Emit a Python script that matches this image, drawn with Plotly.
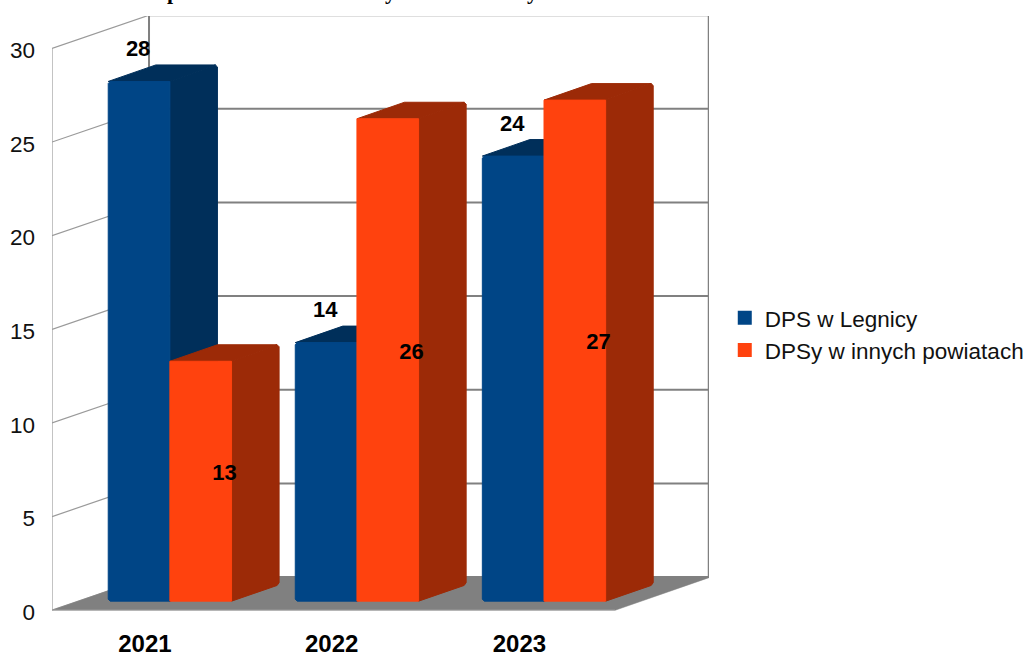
import plotly.graph_objects as go

# ---- data ----
years = ["2021", "2022", "2023"]
dps_legnica = [28, 14, 24]
dps_inne = [13, 26, 27]
name_legnica = "DPS w Legnicy"
name_inne = "DPSy w innych powiatach"
y_ticks = [0, 5, 10, 15, 20, 25, 30]

# ---- style / oblique projection constants ----
BLUE, BLUE_DARK = "#004586", "#002f5a"
ORANGE, ORANGE_DARK = "#ff420e", "#9c2a07"
GREY = "#808080"
SANS = "Liberation Sans"
DX, DY = 0.5168, 1.80      # depth vector of the chart box, in axis units
D0, D1 = 0.27, 0.76        # front / back depth of the bars
K = 0.996                  # bars sit slightly behind the front plane
BEVEL = 0.14               # rounded bar tops end a little below the value
CX, CY = 0.0107, 0.107     # size of the softened bar corners
BAR_W = 0.3285
BAR_START = 0.16
XMAX, YMIN, YMAX = 3.5, -0.2, 31.73


def proj(x, v, d):
    return x + d * DX, v * K + d * DY


def top(v):
    return v - BEVEL


def poly(points, color, width=1.0):
    xs = [p[0] for p in points] + [points[0][0]]
    ys = [p[1] for p in points] + [points[0][1]]
    return go.Scatter(x=xs, y=ys, mode="lines", fill="toself", fillcolor=color,
                      line=dict(color=color, width=width), hoverinfo="skip",
                      showlegend=False, cliponaxis=False)


def lines(xs, ys, color, width):
    return go.Scatter(x=xs, y=ys, mode="lines", line=dict(color=color, width=width),
                      hoverinfo="skip", showlegend=False, cliponaxis=False)


fig = go.Figure()

# walls: side wall lines, back wall lines
sx, sy, bx, by = [], [], [], []
for t in y_ticks:
    sx += [0, DX, None]
    sy += [t, t + DY * 0.985, None]
    bx += [DX, XMAX, None]
    by += [t + DY * 0.985, t + DY * 0.985, None]
fig.add_trace(lines(sx, sy, "#9a9a9a", 1.2))
fig.add_trace(lines(bx, by, GREY, 2))
fig.add_trace(lines([0, 0], [0, y_ticks[-1]], "#9a9a9a", 1.2))
fig.add_trace(lines([DX, DX], [DY * 0.985, y_ticks[-1] + DY * 0.985], GREY, 2))
fig.add_trace(lines([XMAX, XMAX], [DY * 0.985, y_ticks[-1] + DY * 0.985], GREY, 2.5))

# floor
fig.add_trace(poly([(0, 0), (3, 0), (3 + DX, DY), (DX, DY)], GREY, 0.5))
fig.add_trace(lines([0, 3], [0, 0], "#b4b4b4", 1))


def bar(x0, v, front, dark, round_left):
    x1 = x0 + BAR_W
    h = top(v)
    bx_, by_ = proj(x1, 0, D1)
    tx_, ty_ = proj(x1, h, D1)
    # right side, with softened outer corners
    fig.add_trace(poly([proj(x1, 0, D0), (bx_ - CX, by_ - CY * 0.4), (bx_, by_ + CY),
                        (tx_, ty_ - CY), (tx_ - CX, ty_), proj(x1, h, D0)], dark))
    # top
    fig.add_trace(poly([proj(x0, h, D0), proj(x0, h, D1), (tx_ - CX, ty_), proj(x1, h, D0)], dark))
    # front
    fx, fy = proj(x0, 0, D0)
    gx, gy = proj(x0, h, D0)
    c = 1 if round_left else 0
    fig.add_trace(poly([(fx + c * CX, fy), proj(x1, 0, D0), proj(x1, h, D0),
                        (gx + c * CX, gy), (gx, gy - c * CY), (fx, fy + c * CY)], front))


for i in range(len(years)):
    g = BAR_START + i * 0.9965
    bar(g, dps_legnica[i], BLUE, BLUE_DARK, True)
    bar(g + BAR_W, dps_inne[i], ORANGE, ORANGE_DARK, False)

# data labels
lx, ly, lt = [], [], []
for i in range(len(years)):
    g = BAR_START + i * 0.9965
    X, Y = proj(g + BAR_W / 2, dps_legnica[i], D0)
    lx.append(X - 0.005); ly.append(Y + 1.5); lt.append(str(dps_legnica[i]))
    X, Y = proj(g + BAR_W * 1.5, dps_inne[i] / 2, (D0 + D1) / 2)
    lx.append(X); ly.append(Y - 0.15); lt.append(str(dps_inne[i]))
fig.add_trace(go.Scatter(x=lx, y=ly, text=lt, mode="text", textposition="middle center",
                         textfont=dict(family=SANS, size=22, color="#000000"),
                         texttemplate="<b>%{text}</b>", hoverinfo="skip",
                         showlegend=False, cliponaxis=False))

# legend entries
for name, col in [(name_legnica, BLUE), (name_inne, ORANGE)]:
    fig.add_trace(go.Scatter(x=[None], y=[None], mode="markers", name=name,
                             marker=dict(symbol="square", size=14, color=col)))

# title: only the descenders remain visible above the page edge in the reference
PLOT_H = 597.74
for ch, px in [("p", 173), ("y", 390), ("y", 532)]:
    fig.add_annotation(text="<b>%s</b>" % ch, x=(px - 52) / 657, y=1 + 24 / PLOT_H, xref="paper", yref="paper",
                       showarrow=False, yanchor="middle", xanchor="center",
                       font=dict(family="Liberation Serif", size=22, color="#000000"))

fig.update_layout(
    width=1027, height=654, autosize=False,
    margin=dict(l=52, r=318, t=16, b=40.26, autoexpand=False),
    paper_bgcolor="#ffffff", plot_bgcolor="#ffffff",
    xaxis=dict(range=[0, XMAX], showgrid=False, zeroline=False, showline=False,
               tickmode="array", tickvals=[0.495, 1.49, 2.49], ticktext=["<b>%s</b>" % y for y in years],
               tickfont=dict(family=SANS, size=24, color="#000000"), ticks="", ticklabelstandoff=13),
    yaxis=dict(range=[YMIN, YMAX], showgrid=False, zeroline=False, showline=False,
               tickmode="array", tickvals=[t - 0.1 for t in y_ticks], ticktext=[str(t) for t in y_ticks],
               tickfont=dict(family=SANS, size=22.5, color="#111111"), ticks="", ticklabelstandoff=16),
    legend=dict(x=1.024, y=0.468, xanchor="left", yanchor="middle", bgcolor="rgba(0,0,0,0)",
                font=dict(family=SANS, size=22.5, color="#111111"), borderwidth=0),
    showlegend=True,
)

fig.write_html("out.html", config={"displayModeBar": False},
               post_script="document.documentElement.style.margin='0';document.body.style.margin='0';document.body.style.overflow='hidden';")
